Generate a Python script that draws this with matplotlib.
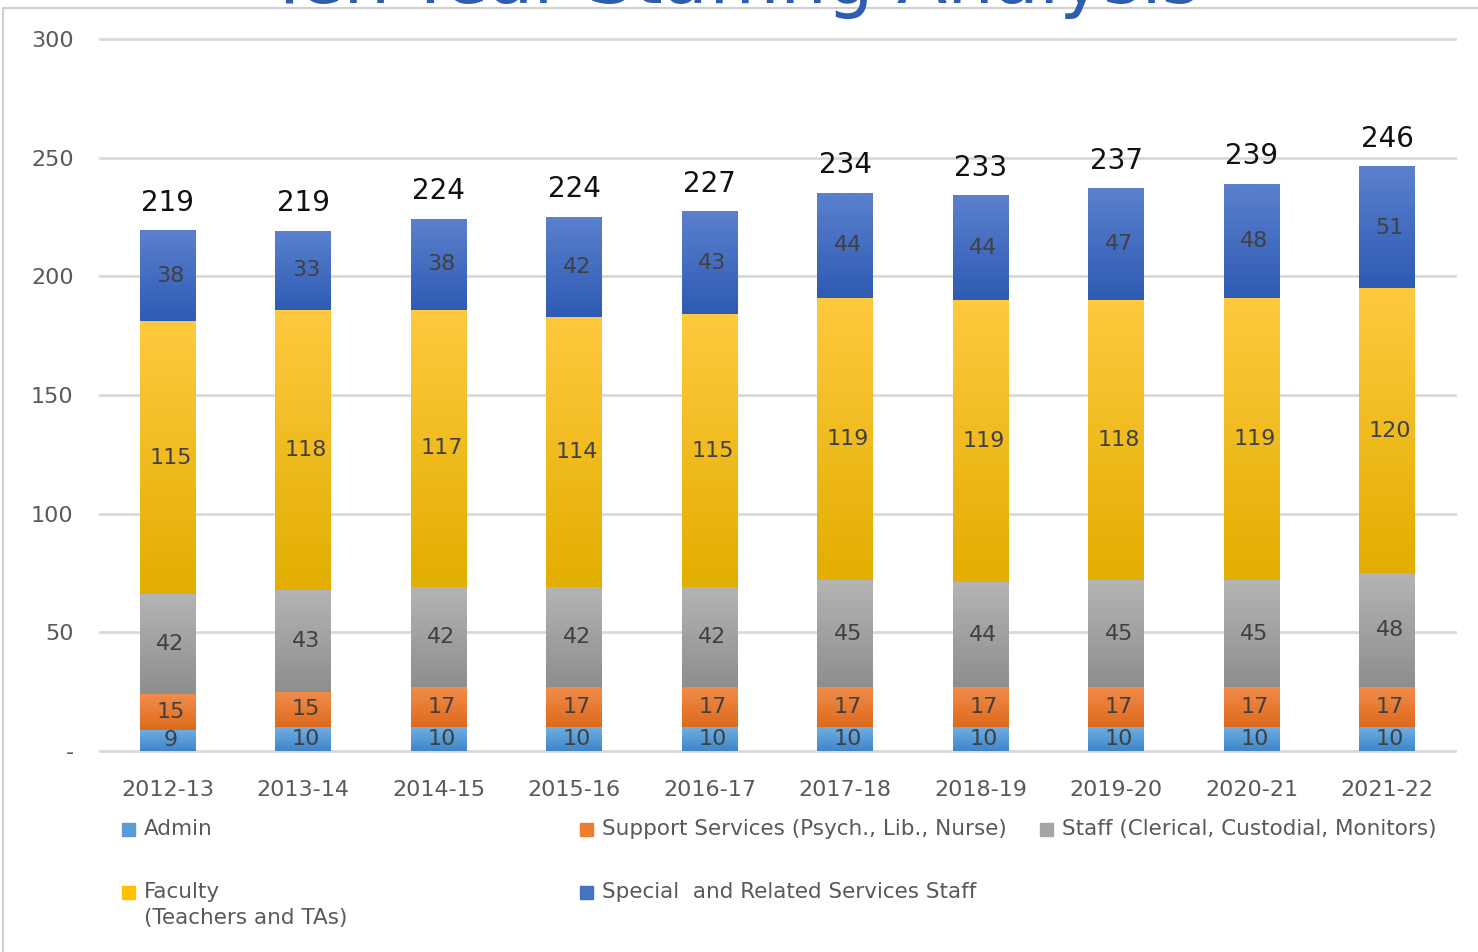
import matplotlib
matplotlib.use("Agg")
import matplotlib.pyplot as plt
import numpy as np
from matplotlib.colors import LinearSegmentedColormap
from matplotlib.patches import Rectangle

years = ["2012-13", "2013-14", "2014-15", "2015-16", "2016-17",
         "2017-18", "2018-19", "2019-20", "2020-21", "2021-22"]
admin = [9, 10, 10, 10, 10, 10, 10, 10, 10, 10]
support = [15, 15, 17, 17, 17, 17, 17, 17, 17, 17]
staff = [42, 43, 42, 42, 42, 45, 44, 45, 45, 48]
faculty = [115, 118, 117, 114, 115, 119, 119, 118, 119, 120]
special = [38, 33, 38, 42, 43, 44, 44, 47, 48, 51]
totals = [219, 219, 224, 224, 227, 234, 233, 237, 239, 246]

series_names = ["Admin", "Support Services (Psych., Lib., Nurse)",
                "Staff (Clerical, Custodial, Monitors)",
                "Faculty\n(Teachers and TAs)", "Special  and Related Services Staff"]
series_vals = [admin, support, staff, faculty, special]
base_colors = ["#5B9BD5", "#ED7D31", "#A5A5A5", "#FFC000", "#4472C4"]
grad_top = ["#6FAEE3", "#F18D4C", "#B4B4B4", "#FFC93F", "#5B80CE"]
grad_bot = ["#3F86C9", "#DE6A1C", "#8E8E8E", "#E2AE00", "#2E5BB3"]

plt.rcParams['font.family'] = ['DejaVu Sans']
W, H = 1478, 952
fig = plt.figure(figsize=(W / 100, H / 100), dpi=100)

def fx(px):
    return px / W

def fy(py):
    return 1 - py / H

# chart frame
fig.patches.append(Rectangle((fx(3), fy(1000)), fx(1600), fy(8) - fy(1000),
                             transform=fig.transFigure, fill=False,
                             edgecolor="#D0D0D0", lw=1.5))

ax = fig.add_axes([fx(100), fy(751), fx(1455) - fx(100), fy(39) - fy(751)])
x = np.arange(len(years))
bw = 0.41
bottom = np.zeros(len(years))
for i, vals in enumerate(series_vals):
    vals = np.array(vals, dtype=float)
    bars = ax.bar(x, vals, bw, bottom=bottom, color=base_colors[i], zorder=2)
    cmap = LinearSegmentedColormap.from_list("g%d" % i, [grad_bot[i], grad_top[i]])
    grad = np.linspace(0, 1, 64).reshape(-1, 1)
    for r in bars.patches:
        bx, by, w, h = r.get_x(), r.get_y(), r.get_width(), r.get_height()
        ax.imshow(grad, extent=[bx, bx + w, by, by + h], origin="lower",
                  aspect="auto", cmap=cmap, zorder=2.5, interpolation="bilinear")
    for xi, b, v in zip(x, bottom, vals):
        ax.text(xi + 0.02, b + v / 2, "%d" % v, ha="center", va="center",
                fontsize=16, color="#404040", zorder=4)
    bottom = bottom + vals

for xi, top, t in zip(x, bottom, totals):
    ax.annotate("%d" % t, (xi, top), xytext=(0, 10), textcoords="offset points",
                ha="center", va="bottom", fontsize=20, color="#111111")

ax.set_xlim(-0.5, len(years) - 0.5)
ax.set_ylim(0, 300)
ax.set_yticks([0, 50, 100, 150, 200, 250, 300])
ax.set_yticklabels(["-", "50", "100", "150", "200", "250", "300"])
ax.set_xticks(x)
ax.set_xticklabels(years)
ax.tick_params(axis="both", length=0, labelsize=16, colors="#595959")
ax.tick_params(axis="y", pad=19)
ax.tick_params(axis="x", pad=21)
for lab in ax.get_yticklabels():
    lab.set_horizontalalignment("right")
ax.grid(axis="y", color="#D9D9D9", lw=2, zorder=0)
for s in ax.spines.values():
    s.set_visible(False)
ax.set_axisbelow(True)
for gl in ax.get_ygridlines():
    gl.set_clip_on(False)

# title (partially cut off at top)
fig.text(fx(733), fy(3), "Ten-Year Staffing Analysis", ha="center", va="baseline",
         fontsize=53, color="#2E5CAF")

# legend
leg_pos = [(122, 829), (580, 829), (1040, 829), (122, 892), (580, 892)]
for (px, py), name, c in zip(leg_pos, series_names, base_colors):
    fig.patches.append(Rectangle((fx(px), fy(py + 7)), fx(13), fy(py - 6) - fy(py + 7),
                                 transform=fig.transFigure, color=c))
    fig.text(fx(px + 22), fy(py - 10), name, ha="left", va="top", fontsize=15.5,
             color="#595959", linespacing=1.4)

fig.savefig("out.png", dpi=100)
